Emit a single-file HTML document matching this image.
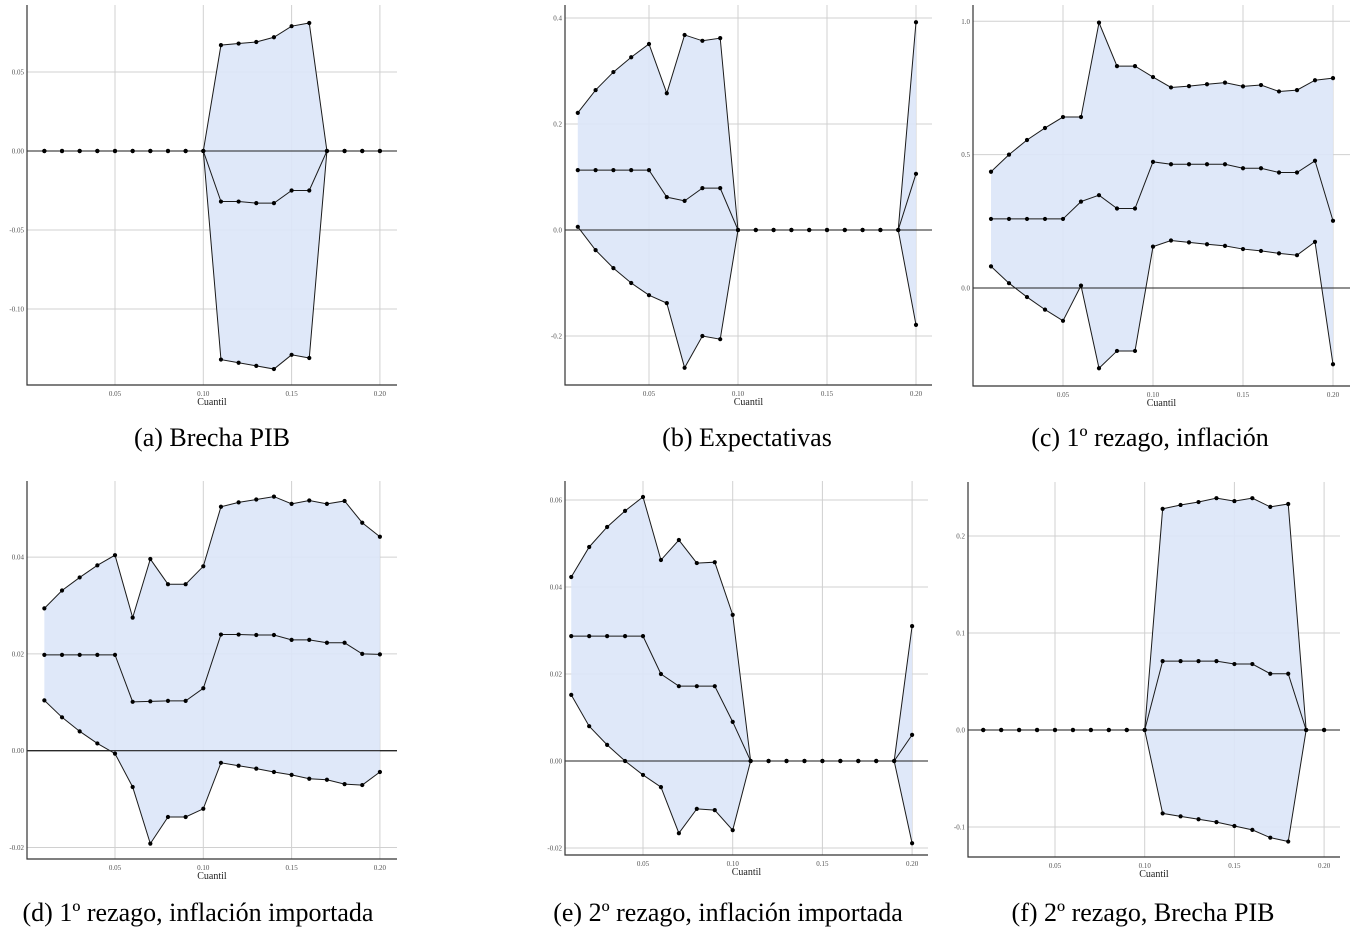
<!DOCTYPE html>
<html><head><meta charset="utf-8">
<style>
html,body{margin:0;padding:0;background:#fff;}
svg{display:block;}
text{font-family:"Liberation Serif",serif;}
.tick{font-size:7px;fill:#555;}
.xt{font-size:10px;fill:#222;}
.cap{font-size:26px;fill:#000;}
</style></head>
<body>
<svg id="fig" width="1359" height="942" viewBox="0 0 1359 942"></svg>
<script>
const quantiles=[0.01,0.02,0.03,0.04,0.05,0.06,0.07,0.08,0.09,0.10,0.11,0.12,0.13,0.14,0.15,0.16,0.17,0.18,0.19,0.20];
const xTicks=[0.05,0.10,0.15,0.20];
const xTickLabels=["0.05","0.10","0.15","0.20"];

const aUpper=[0,0,0,0,0,0,0,0,0,0,0.067,0.068,0.069,0.072,0.079,0.081,0,0,0,0];
const aMid=[0,0,0,0,0,0,0,0,0,0,-0.032,-0.032,-0.033,-0.033,-0.025,-0.025,0,0,0,0];
const aLower=[0,0,0,0,0,0,0,0,0,0,-0.132,-0.134,-0.136,-0.138,-0.129,-0.131,0,0,0,0];
const aYTicks=[0.05,0,-0.05,-0.10];
const aYLabels=["0.05","0.00","-0.05","-0.10"];

const bUpper=[0.221,0.264,0.298,0.326,0.351,0.258,0.368,0.357,0.362,0,0,0,0,0,0,0,0,0,0,0.392];
const bMid=[0.113,0.113,0.113,0.113,0.113,0.062,0.055,0.079,0.079,0,0,0,0,0,0,0,0,0,0,0.106];
const bLower=[0.006,-0.038,-0.072,-0.1,-0.123,-0.138,-0.26,-0.2,-0.206,0,0,0,0,0,0,0,0,0,0,-0.179];
const bYTicks=[0.4,0.2,0,-0.2];
const bYLabels=["0.4","0.2","0.0","-0.2"];

const cUpper=[0.436,0.5,0.555,0.6,0.641,0.641,0.995,0.832,0.832,0.791,0.752,0.757,0.764,0.77,0.756,0.761,0.737,0.742,0.779,0.787];
const cMid=[0.259,0.259,0.259,0.259,0.259,0.324,0.348,0.298,0.298,0.473,0.464,0.464,0.464,0.464,0.449,0.449,0.433,0.433,0.477,0.252];
const cLower=[0.081,0.018,-0.034,-0.081,-0.123,0.009,-0.301,-0.236,-0.236,0.155,0.178,0.171,0.164,0.158,0.146,0.139,0.13,0.123,0.173,-0.286];
const cYTicks=[1.0,0.5,0];
const cYLabels=["1.0","0.5","0.0"];

const dUpper=[0.0294,0.0331,0.0358,0.0383,0.0404,0.0275,0.0396,0.0344,0.0344,0.0381,0.0504,0.0513,0.0519,0.0525,0.051,0.0517,0.051,0.0516,0.0471,0.0442];
const dMid=[0.0198,0.0198,0.0198,0.0198,0.0198,0.0101,0.0102,0.0103,0.0103,0.0129,0.024,0.024,0.0239,0.0239,0.0229,0.0229,0.0223,0.0223,0.02,0.0199];
const dLower=[0.0104,0.0069,0.004,0.0015,-0.0006,-0.0075,-0.0192,-0.0137,-0.0137,-0.012,-0.0025,-0.0031,-0.0037,-0.0044,-0.005,-0.0058,-0.006,-0.0069,-0.0071,-0.0044];
const dYTicks=[0.04,0.02,0,-0.02];
const dYLabels=["0.04","0.02","0.00","-0.02"];

const eUpper=[0.0423,0.0492,0.0538,0.0575,0.0607,0.0462,0.0508,0.0455,0.0457,0.0336,0,0,0,0,0,0,0,0,0,0.031];
const eMid=[0.0287,0.0287,0.0287,0.0287,0.0287,0.02,0.0172,0.0172,0.0172,0.009,0,0,0,0,0,0,0,0,0,0.006];
const eLower=[0.0152,0.008,0.0037,0,-0.0032,-0.006,-0.0166,-0.011,-0.0113,-0.0159,0,0,0,0,0,0,0,0,0,-0.0189];
const eYTicks=[0.06,0.04,0.02,0,-0.02];
const eYLabels=["0.06","0.04","0.02","0.00","-0.02"];

const fUpper=[0,0,0,0,0,0,0,0,0,0,0.228,0.232,0.235,0.239,0.236,0.239,0.23,0.233,0,0];
const fMid=[0,0,0,0,0,0,0,0,0,0,0.071,0.071,0.071,0.071,0.068,0.068,0.058,0.058,0,0];
const fLower=[0,0,0,0,0,0,0,0,0,0,-0.086,-0.089,-0.092,-0.095,-0.099,-0.103,-0.111,-0.115,0,0];
const fYTicks=[0.2,0.1,0,-0.1];
const fYLabels=["0.2","0.1","0.0","-0.1"];

const NS="http://www.w3.org/2000/svg";
const svg=document.getElementById('fig');
function mk(tag,attrs,parent){const e=document.createElementNS(NS,tag);for(const k in attrs)e.setAttribute(k,attrs[k]);(parent||svg).appendChild(e);return e;}

function panel(id,L,T,R,B,x05,dx,y0,py,upper,mid,lower,yT,yL,caption,capX,capY){
  const g=mk('g',{});
  
  
  const X=v=>x05+(v-0.05)/0.05*dx;
  const Y=v=>y0-v*py;
  xTicks.forEach((t,i)=>{
    const l=mk('line',{x1:X(t),x2:X(t),y1:T,y2:B,stroke:'#d0d0d0','stroke-width':1},g);
    
    
    const tx=mk('text',{x:X(t),y:B+11,'text-anchor':'middle',class:'tick'},g);
    tx.textContent=xTickLabels[i];
    
    
  });
  yT.forEach((t,i)=>{
    const l=mk('line',{x1:L,x2:R,y1:Y(t),y2:Y(t),stroke:t===0?'#222':'#d0d0d0','stroke-width':t===0?1.1:1},g);
    
    
    const tx=mk('text',{x:L-3,y:Y(t)+2.5,'text-anchor':'end',class:'tick'},g);
    tx.textContent=yL[i];
    
    
  });
  let pts=upper.map((v,i)=>X(quantiles[i])+','+Y(v));
  for(let i=lower.length-1;i>=0;i--)pts.push(X(quantiles[i])+','+Y(lower[i]));
  const band=mk('polygon',{points:pts.join(' '),fill:'#dbe5f8','fill-opacity':0.9,stroke:'none'},g);
  
  
  const z=mk('line',{x1:L,x2:R,y1:Y(0),y2:Y(0),stroke:'#222','stroke-width':1.1},g);
  
  
  [['upper',upper],['mid',mid],['lower',lower]].forEach(([nm,arr])=>{
    const p=mk('polyline',{points:arr.map((v,i)=>X(quantiles[i])+','+Y(v)).join(' '),fill:'none',stroke:'#1a1a1a','stroke-width':1},g);
    
    
    arr.forEach((v,i)=>{
      const c=mk('circle',{cx:X(quantiles[i]),cy:Y(v),r:2.1,fill:'#000'},g);
      
      
    });
  });
  const ax=mk('path',{d:`M${L},${T} L${L},${B} L${R},${B}`,fill:'none',stroke:'#333','stroke-width':1.2},g);
  
  
  const xt=mk('text',{x:(L+R)/2,y:B+20,'text-anchor':'middle',class:'xt'},g);
  xt.textContent='Cuantil';
  
  
  const cp=mk('text',{x:capX,y:capY,'text-anchor':'middle',class:'cap'},g);
  cp.textContent=caption;
  
  
}
panel('a',27,5,397,385,115,88.3,151,1580,aUpper,aMid,aLower,aYTicks,aYLabels,'(a) Brecha PIB',212,446);
panel('b',565,5,932,385,649,89,230,530,bUpper,bMid,bLower,bYTicks,bYLabels,'(b) Expectativas',747,446);
panel('c',973,5,1350,386,1063,90,288,266.7,cUpper,cMid,cLower,cYTicks,cYLabels,'(c) 1º rezago, inflación',1150,446);
panel('d',27,481,397,859,115,88.3,750.7,4840,dUpper,dMid,dLower,dYTicks,dYLabels,'(d) 1º rezago, inflación importada',198,921);
panel('e',565,481,928,855,643,89.7,761,4350,eUpper,eMid,eLower,eYTicks,eYLabels,'(e) 2º rezago, inflación importada',728,921);
panel('f',968,482,1340,857,1055,89.7,730,970,fUpper,fMid,fLower,fYTicks,fYLabels,'(f) 2º rezago, Brecha PIB',1143,921);
</script>
</body></html>
